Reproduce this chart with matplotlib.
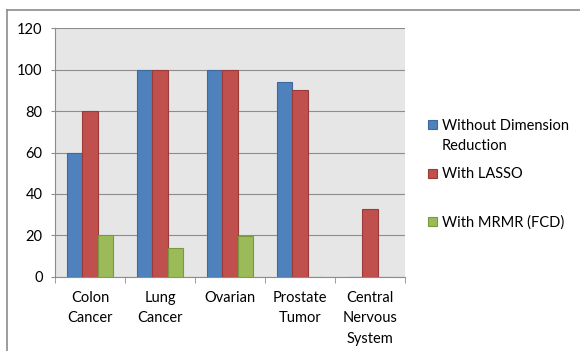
import matplotlib.pyplot as plt
import numpy as np
from matplotlib.lines import Line2D
from matplotlib.patches import Rectangle

categories = ['Colon\nCancer', 'Lung\nCancer', 'Ovarian', 'Prostate\nTumor', 'Central\nNervous\nSystem']
without_dr = [60, 100, 100, 94, 0]
with_lasso = [80, 100, 100, 90, 33]
with_mrmr = [20, 14, 19.5, 0, 0]
series_names = ['Without Dimension\nReduction', 'With LASSO', 'With MRMR (FCD)']
colors = ['#4F81BD', '#C0504D', '#9BBB59']
edges = ['#3A6A9E', '#9C3A37', '#789A3E']

plt.rcParams['font.family'] = ['Lato', 'DejaVu Sans']

W, H = 580, 351
fig = plt.figure(figsize=(W / 100, H / 100), dpi=100)
ax = fig.add_axes([0.095, 0.211, 0.603, 0.709])

# chart border: only top and left edges are visible in the crop
fig.add_artist(Line2D([7 / W, 1.0], [1 - 9.5 / H] * 2, transform=fig.transFigure,
                      color='#8c8c8c', linewidth=1.2))
fig.add_artist(Line2D([7 / W] * 2, [0.0, 1 - 9.5 / H], transform=fig.transFigure,
                      color='#8c8c8c', linewidth=1.2))

x = np.arange(len(categories))
w = 0.22
for i, vals in enumerate([without_dr, with_lasso, with_mrmr]):
    ax.bar(x + (i - 1) * w, vals, w, color=colors[i], edgecolor=edges[i],
           linewidth=0.8, zorder=3)

ax.set_facecolor('#E6E6E6')
ax.set_xlim(-0.5, len(categories) - 0.5)
ax.set_ylim(0, 120)
ax.set_yticks(range(0, 121, 20))
ax.yaxis.grid(True, color='#8c8c8c', linewidth=0.8, zorder=0)
ax.set_axisbelow(True)

ax.set_xticks(x)
ax.set_xticklabels(categories, fontsize=10.5, linespacing=1.6, va='top')
ax.set_xticks(np.arange(-0.5, len(categories), 1), minor=True)
ax.tick_params(axis='x', which='major', length=0, pad=10)
ax.tick_params(axis='x', which='minor', length=4, color='#8c8c8c')
ax.tick_params(axis='y', length=3, color='#8c8c8c', labelsize=10.5, pad=6)

for s in ['top', 'right']:
    ax.spines[s].set_visible(False)
ax.spines['left'].set_color('#8c8c8c')
ax.spines['bottom'].set_color('#8c8c8c')

# legend, Excel style: marker aligned with first text line
for i, name in enumerate(series_names):
    yc = 125 + 48 * i  # pixel row of first text line
    fig.patches.append(Rectangle((428 / W, 1 - (yc + 4.5) / H), 9 / W, 9 / H,
                                 transform=fig.transFigure, facecolor=colors[i],
                                 edgecolor=edges[i], linewidth=0.8))
    fig.text(442 / W, 1 - (yc - 6) / H, name, fontsize=10.5, va='top', ha='left',
             linespacing=1.55)

fig.savefig('out.png', dpi=100)
